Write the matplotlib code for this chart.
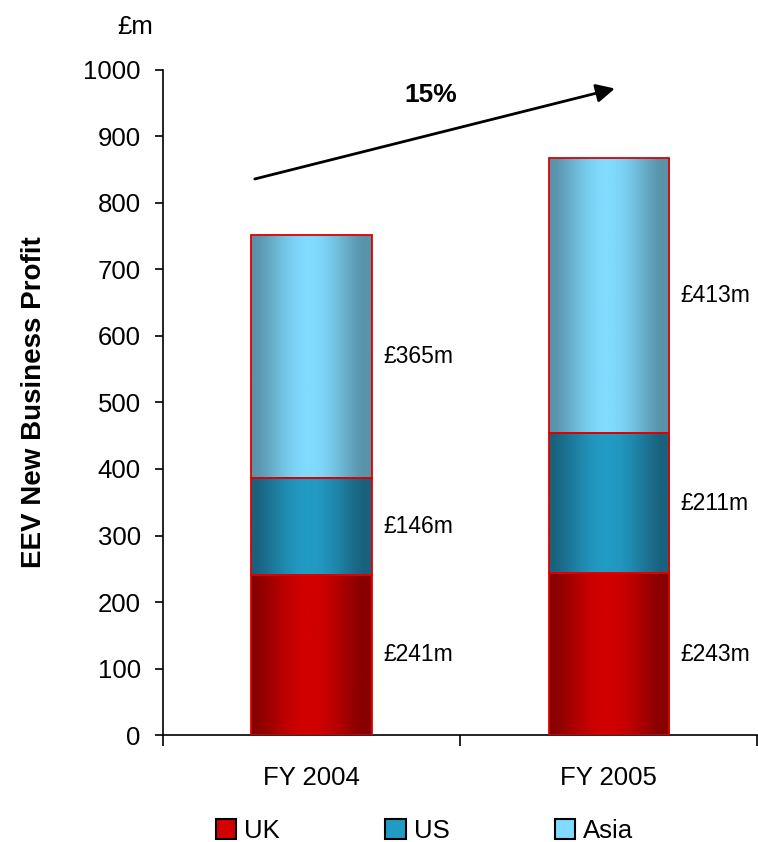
import matplotlib.pyplot as plt
import numpy as np
from matplotlib.colors import LinearSegmentedColormap
from matplotlib.patches import Patch

plt.rcParams['font.family'] = ['Liberation Sans', 'DejaVu Sans']

# Data
years = ['FY 2004', 'FY 2005']
regions = ['UK', 'US', 'Asia']
uk = [241, 243]
us = [146, 211]
asia = [365, 413]
growth = '15%'

# shading per region: (edge colour, centre colour)
shades = {
    'UK': ('#880000', '#d20000'),
    'US': ('#19627e', '#229bc4'),
    'Asia': ('#5893aa', '#80dbff'),
}


def gradient_bar(ax, patch, edge_col, mid_col):
    # fill a bar patch with a horizontal cylinder-like gradient
    x0, y0 = patch.get_x(), patch.get_y()
    w, h = patch.get_width(), patch.get_height()
    t = np.linspace(0, 1, 200)
    prof = np.clip(np.sin(np.pi * np.clip((t - 0.02) / 0.92, 0, 1)), 0, 1) ** 1.4
    cmap = LinearSegmentedColormap.from_list('g', [edge_col, mid_col])
    img = ax.imshow(prof[np.newaxis, :], cmap=cmap, vmin=0, vmax=1,
                    extent=[x0, x0 + w, y0, y0 + h], aspect='auto',
                    interpolation='bilinear', zorder=2)
    img.set_clip_path(patch)


fig = plt.figure(figsize=(7.58, 8.42), dpi=100)
ax = fig.add_axes([0.215, 0.127, 0.784, 0.79])

x = np.arange(len(years))
width = 0.405
bottom = np.zeros(len(years))
for name, vals in zip(regions, [uk, us, asia]):
    bars = ax.bar(x, vals, width, bottom=bottom, facecolor='none',
                  edgecolor='#e00000', linewidth=1.3, zorder=3)
    for b, v, b0 in zip(bars, vals, bottom):
        gradient_bar(ax, b, *shades[name])
        ax.text(b.get_x() + b.get_width() + 0.04, b0 + v / 2, f'£{v}m',
                ha='left', va='center', fontsize=16.5)
    bottom = bottom + np.array(vals)

ax.set_xlim(-0.5, 1.5)
ax.set_ylim(0, 1000)
ax.set_yticks(np.arange(0, 1001, 100))
ax.tick_params(axis='y', labelsize=18.5, length=6, width=1.2, pad=10)
ax.set_xticks([-0.5, 0.5, 1.5])
ax.set_xticklabels([])
ax.tick_params(axis='x', length=8, width=1.2)
ax.set_xticks(x, minor=True)
ax.set_xticklabels(years, minor=True, fontsize=18.5)
ax.tick_params(axis='x', which='minor', length=0, pad=22)

for s in ['top', 'right']:
    ax.spines[s].set_visible(False)
for s in ['left', 'bottom']:
    ax.spines[s].set_linewidth(1.2)

ax.set_ylabel('EEV New Business Profit', fontsize=20, fontweight='bold',
              labelpad=26)
fig.text(0.178, 0.968, '£m', fontsize=18.5, ha='center', va='center')

# growth arrow
ax.annotate('', xy=(1.03, 973), xytext=(-0.2, 835),
            arrowprops=dict(arrowstyle='-|>', color='black', lw=2,
                            mutation_scale=28), annotation_clip=False)
ax.text(0.40, 962, growth, fontsize=19, fontweight='bold',
        ha='center', va='center')

handles = [Patch(facecolor=shades[r][1], edgecolor='black', linewidth=1.5)
           for r in regions]
fig.legend(handles, regions, loc='center', bbox_to_anchor=(0.56, 0.013),
           ncol=3, frameon=False, fontsize=18.5, handlelength=0.8,
           handleheight=0.8, handletextpad=0.3, columnspacing=4.1)

fig.savefig('out.png', dpi=100)
